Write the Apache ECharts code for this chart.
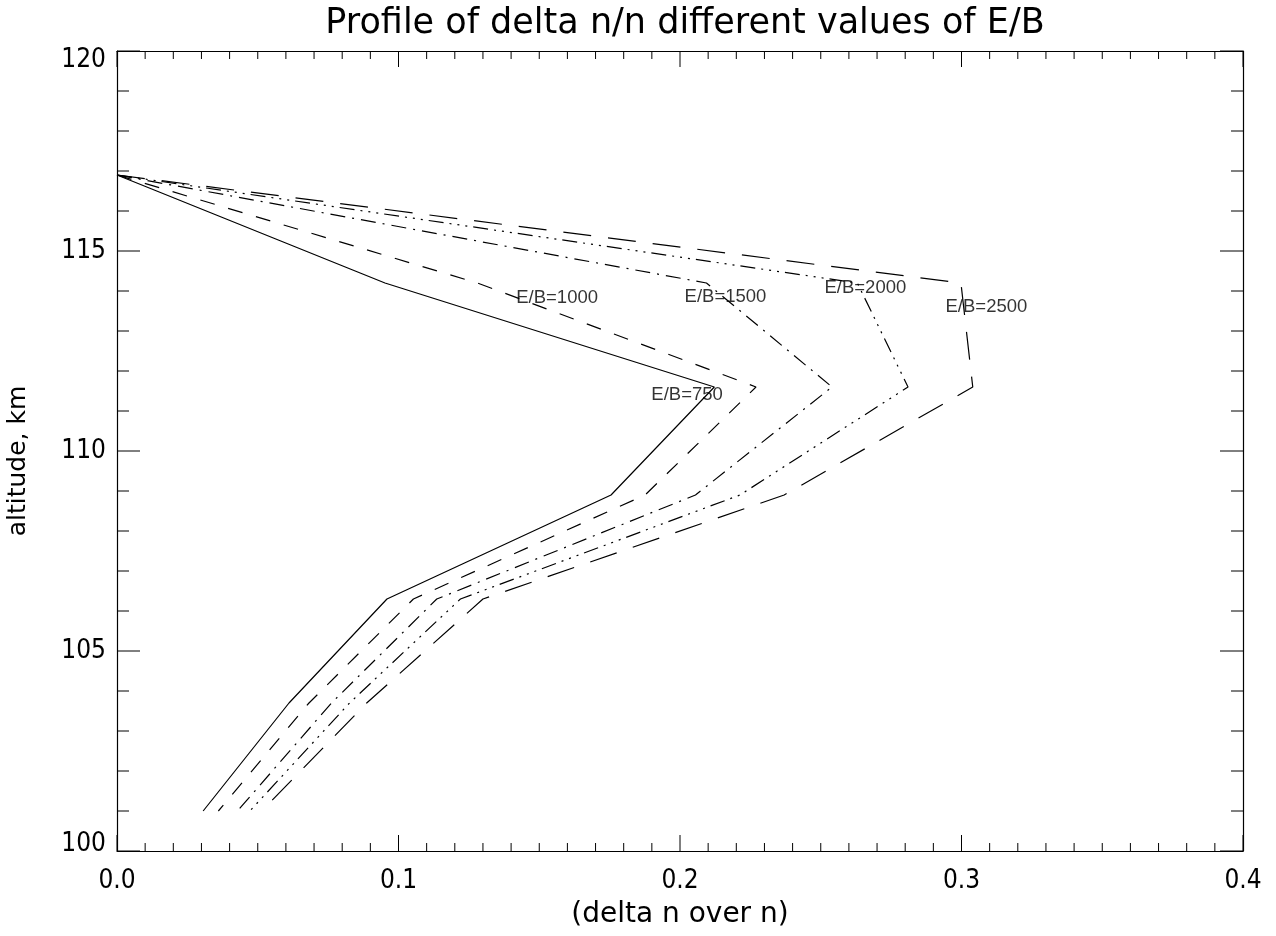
<!DOCTYPE html>
<html>
<head>
<meta charset="utf-8">
<title>Profile of delta n/n</title>
<script src="https://cdn.jsdelivr.net/npm/echarts@6/dist/echarts.min.js"></script>
<style>
  html, body { margin: 0; padding: 0; background: #ffffff; }
  #chart { width: 1276px; height: 936px; }
</style>
</head>
<body>
<div id="chart"></div>
<script>
// Altitude levels of the profile (km), shared by every E/B curve
const altitude = [116.9, 114.2, 111.6, 108.9, 106.3, 103.7, 101.0];

// delta n / n at each altitude level, one array per E/B value
const eb750  = [0, 0.0952, 0.2122, 0.1755, 0.0959, 0.0611, 0.0306];
const eb1000 = [0, 0.1280, 0.2270, 0.1876, 0.1053, 0.0682, 0.0360];
const eb1500 = [0, 0.2094, 0.2540, 0.2055, 0.1136, 0.0762, 0.0428];
const eb2000 = [0, 0.2630, 0.2810, 0.2213, 0.1220, 0.0826, 0.0472];
const eb2500 = [0, 0.2998, 0.3040, 0.2370, 0.1300, 0.0887, 0.0514];

// Curve annotations: text and the data point where each text starts
const noteText = ['E/B=750', 'E/B=1000', 'E/B=1500', 'E/B=2000', 'E/B=2500'];
const noteX    = [0.190, 0.142, 0.2018, 0.2515, 0.2945];
const noteY    = [111.16, 113.58, 113.60, 113.83, 113.36];

// Axis tick values (labelled) and the number of minor steps between them
const xTicks = [0.0, 0.1, 0.2, 0.3, 0.4];
const yTicks = [100, 105, 110, 115, 120];
const xMinorSteps = 10;
const yMinorSteps = 5;

const FONT_C = "'DejaVu Sans Condensed', 'DejaVu Sans', sans-serif";
const FONT_R = "'DejaVu Sans', sans-serif";
const INK = '#000000';

const X_MIN = xTicks[0], X_MAX = xTicks[xTicks.length - 1];
const Y_MIN = yTicks[0], Y_MAX = yTicks[yTicks.length - 1];

function pairs(xs) {
  return xs.map((x, i) => [x, altitude[i]]);
}

// Every tick position (major and minor) along one axis, flagged as major or not
function tickList(majors, steps) {
  const out = [];
  for (let i = 0; i < majors.length - 1; i++) {
    const a = majors[i], b = majors[i + 1];
    for (let k = 0; k < steps; k++) {
      out.push({ v: a + (b - a) * k / steps, major: k === 0 });
    }
  }
  out.push({ v: majors[majors.length - 1], major: true });
  return out;
}

const curves = [
  { name: 'E/B=750',  data: eb750,  dash: 'solid' },
  { name: 'E/B=1000', data: eb1000, dash: [15, 14] },
  { name: 'E/B=1500', data: eb1500, dash: [15, 7, 2, 7] },
  { name: 'E/B=2000', data: eb2000, dash: [15, 6, 2, 6, 2, 6, 2, 6] },
  { name: 'E/B=2500', data: eb2500, dash: [28, 17] }
];

const chart = echarts.init(document.getElementById('chart'), null, { renderer: 'canvas' });

function boxAxis(kind, position, opts) {
  const isX = kind === 'x';
  return Object.assign({
    type: 'value', position: position,
    min: isX ? X_MIN : Y_MIN, max: isX ? X_MAX : Y_MAX, interval: isX ? 0.1 : 5,
    axisLine: { show: true, onZero: false, lineStyle: { color: INK, width: 1.2 } },
    axisTick: { show: false },
    minorTick: { show: false },
    axisLabel: { show: false },
    splitLine: { show: false }
  }, opts || {});
}

const xAxes = [
  boxAxis('x', 'bottom', {
    name: '(delta n over n)', nameLocation: 'middle', nameGap: 50,
    nameTextStyle: { fontFamily: FONT_R, fontSize: 28, color: INK },
    axisLabel: {
      show: true, fontFamily: FONT_C, fontSize: 26, color: INK, margin: 17,
      formatter: v => v.toFixed(1)
    }
  }),
  boxAxis('x', 'top')
];

const yAxes = [
  boxAxis('y', 'left', {
    name: 'altitude, km', nameLocation: 'middle', nameGap: 86, nameRotate: 90,
    nameTextStyle: { fontFamily: FONT_R, fontSize: 25, color: INK, padding: [0, 20, 0, 0] },
    axisLabel: {
      show: true, fontFamily: FONT_C, fontSize: 26, color: INK, margin: 11,
      formatter: v => v === 120 ? '{t|120}' : (v === 100 ? '{b|100}' : String(v)),
      rich: {
        t: { fontFamily: FONT_C, fontSize: 26, color: INK, padding: [18, 0, 0, 0] },
        b: { fontFamily: FONT_C, fontSize: 26, color: INK, padding: [0, 0, 14, 0] }
      }
    }
  }),
  boxAxis('y', 'right')
];

// Inward tick marks on all four sides of the plot box, placed through the axis scales
const xTickItems = tickList(xTicks, xMinorSteps);
const yTickItems = tickList(yTicks, yMinorSteps);

const tickStyle = { stroke: INK, lineWidth: 1 };

const xTickSeries = {
  type: 'custom',
  name: 'x ticks',
  xAxisIndex: 0, yAxisIndex: 0,
  silent: true,
  clip: false,
  z: 10,
  data: xTickItems.map(t => [t.v, Y_MIN, t.major ? 1 : 0]),
  renderItem: (params, api) => {
    const v = api.value(0);
    const len = api.value(2) ? 16 : 8;
    const b = api.coord([v, Y_MIN]);
    const t = api.coord([v, Y_MAX]);
    return {
      type: 'group',
      children: [
        { type: 'line', shape: { x1: b[0], y1: b[1], x2: b[0], y2: b[1] - len }, style: tickStyle },
        { type: 'line', shape: { x1: t[0], y1: t[1], x2: t[0], y2: t[1] + len }, style: tickStyle }
      ]
    };
  }
};

const yTickSeries = {
  type: 'custom',
  name: 'y ticks',
  xAxisIndex: 0, yAxisIndex: 0,
  silent: true,
  clip: false,
  z: 10,
  data: yTickItems.map(t => [X_MIN, t.v, t.major ? 1 : 0]),
  renderItem: (params, api) => {
    const v = api.value(1);
    const len = api.value(2) ? 23 : 12;
    const l = api.coord([X_MIN, v]);
    const r = api.coord([X_MAX, v]);
    return {
      type: 'group',
      children: [
        { type: 'line', shape: { x1: l[0], y1: l[1], x2: l[0] + len, y2: l[1] }, style: tickStyle },
        { type: 'line', shape: { x1: r[0], y1: r[1], x2: r[0] - len, y2: r[1] }, style: tickStyle }
      ]
    };
  }
};

const option = {
  backgroundColor: '#ffffff',
  animation: false,
  title: {
    text: 'Profile of delta n/n different values of E/B',
    left: 680,
    textAlign: 'center',
    top: 1,
    textStyle: { fontFamily: FONT_R, fontWeight: 'normal', fontSize: 35, color: INK }
  },
  grid: {
    left: 117, right: 33, top: 51, bottom: 85,
    containLabel: false,
    outerBoundsMode: 'none'
  },
  xAxis: xAxes,
  yAxis: yAxes,
  series: curves.map(c => ({
    name: c.name,
    type: 'line',
    xAxisIndex: 0,
    yAxisIndex: 0,
    data: pairs(c.data),
    showSymbol: false,
    symbol: 'none',
    smooth: false,
    lineStyle: { color: INK, width: 1.2, type: c.dash },
    emphasis: { disabled: true },
    z: 3
  })).concat([{
    name: 'notes',
    type: 'scatter',
    xAxisIndex: 0,
    yAxisIndex: 0,
    symbolSize: 1,
    itemStyle: { color: 'rgba(0,0,0,0)' },
    data: noteText.map((t, i) => ({ value: [noteX[i], noteY[i]], name: t })),
    label: {
      show: true,
      position: [0, 0],
      align: 'left',
      verticalAlign: 'bottom',
      formatter: p => p.name,
      fontFamily: "'Liberation Sans', Arial, sans-serif",
      fontSize: 18.5,
      color: INK
    },
    emphasis: { disabled: true },
    z: 5
  }, xTickSeries, yTickSeries])
};

chart.setOption(option);
</script>
</body>
</html>
